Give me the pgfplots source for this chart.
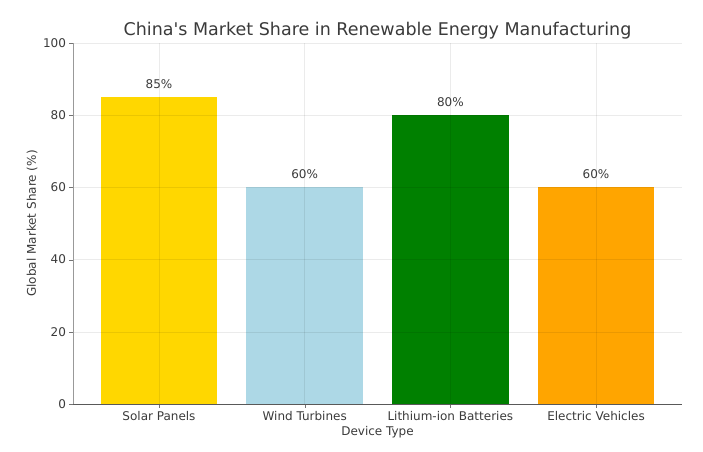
\documentclass[border=0pt]{standalone}
\usepackage{pgfplots}
\pgfplotsset{compat=1.18}
\usepackage{fontspec}
\setmainfont{DejaVu Sans}[Ligatures=TeXOff]
\definecolor{txt}{HTML}{3A3A3A}
\definecolor{cgold}{HTML}{FFD700}
\definecolor{clblue}{HTML}{ADD8E6}
\definecolor{cgreen}{HTML}{008000}
\definecolor{corange}{HTML}{FFA500}
\begin{document}
\begin{tikzpicture}
\path[use as bounding box] (0,0) rectangle (703pt,451pt);
\begin{axis}[
  at={(73pt,47pt)}, anchor=south west,
  scale only axis, width=609pt, height=361pt,
  xmin=-0.59, xmax=3.59, ymin=0, ymax=100,
  axis x line*=bottom, axis y line*=left,
  x axis line style={-, draw=black!65},
  y axis line style={-, draw=black!40},
  xtick={0,1,2,3},
  xticklabels={Solar Panels, Wind Turbines, Lithium-ion Batteries, Electric Vehicles},
  ytick={0,20,...,100},
  tick align=outside, major tick length=3.5pt,
  tick style={black!55},
  grid=major, grid style={black, opacity=0.08},
  axis on top,
  font=\fontsize{12}{14}\selectfont,
  ticklabel style={font=\fontsize{12}{14}\selectfont, text=txt},
  /pgf/number format/assume math mode=true,
  title={China's Market Share in Renewable Energy Manufacturing},
  title style={font=\fontsize{17.5}{20}\selectfont, text=txt, at={(0.5,1.005)}, anchor=base},
  xlabel={Device Type},
  xlabel style={font=\fontsize{12}{14}\selectfont, text=txt, at={(0.5,-0.086)}, anchor=base},
  ylabel={Global Market Share (\%)},
  ylabel style={font=\fontsize{12}{14}\selectfont, text=txt, at={(-0.0608,0.5)}, anchor=base},
  nodes near coords={\pgfmathprintnumber{\pgfplotspointmeta}\%},
  nodes near coords style={font=\fontsize{12}{14}\selectfont, text=txt, yshift=5pt},
]
\addplot[ybar, bar width=0.8, bar shift=0pt, fill=cgold, draw=none] coordinates {(0,85)};
\addplot[ybar, bar width=0.8, bar shift=0pt, fill=clblue, draw=none] coordinates {(1,60)};
\addplot[ybar, bar width=0.8, bar shift=0pt, fill=cgreen, draw=none] coordinates {(2,80)};
\addplot[ybar, bar width=0.8, bar shift=0pt, fill=corange, draw=none] coordinates {(3,60)};
\end{axis}
\end{tikzpicture}
\end{document}
